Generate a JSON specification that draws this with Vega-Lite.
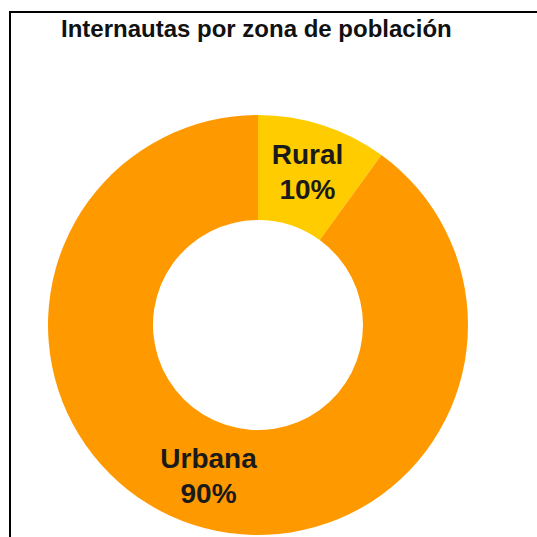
{
  "$schema": "https://vega.github.io/schema/vega-lite/v6.json",
  "width": 540,
  "height": 626,
  "autosize": {"type": "none"},
  "padding": {"left": 10, "top": 12, "right": 0, "bottom": 0},
  "background": "white",
  "view": {"stroke": "black", "strokeWidth": 2, "fill": "white"},
  "config": {"view": {"stroke": "black", "strokeWidth": 2}},
  "title": {
    "text": "Internautas por zona de población",
    "anchor": "start",
    "frame": "group",
    "font": "Liberation Sans",
    "fontSize": 24,
    "fontWeight": "bold",
    "color": "#111111",
    "offset": -30,
    "dx": 51
  },
  "data": {"values": [{"zona": "Rural", "pct": 10}, {"zona": "Urbana", "pct": 90}]},
  "transform": [{"calculate": "datum.zona + '\\n' + datum.pct + '%'", "as": "label"}],
  "encoding": {
    "theta": {"field": "pct", "type": "quantitative", "stack": true},
    "order": {"field": "zona"}
  },
  "layer": [
    {
      "mark": {"type": "arc", "outerRadius": 210, "innerRadius": 105, "xOffset": -22},
      "encoding": {
        "color": {
          "field": "zona",
          "type": "nominal",
          "scale": {"domain": ["Rural", "Urbana"], "range": ["#FFCC00", "#FF9900"]},
          "legend": null
        }
      }
    },
    {
      "mark": {
        "type": "text",
        "radius": 160,
        "xOffset": -22,
        "dy": -17,
        "font": "Liberation Sans",
        "fontSize": 28,
        "fontWeight": "bold",
        "lineBreak": "\n",
        "lineHeight": 35,
        "color": "#1a1a1a"
      },
      "encoding": {"text": {"field": "label"}}
    }
  ]
}
